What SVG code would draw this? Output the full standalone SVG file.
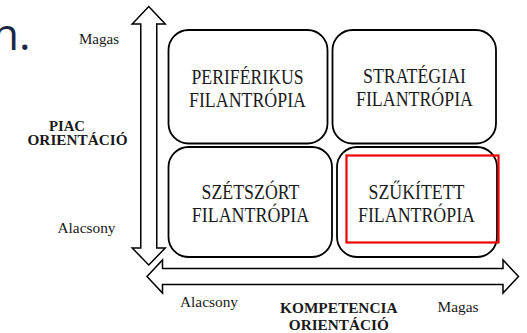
<svg xmlns="http://www.w3.org/2000/svg" width="527" height="333" viewBox="0 0 527 333">
  <style>
    .box { fill: #ffffff; stroke: #000000; stroke-width: 1.8; }
    .arrow { fill: #ffffff; stroke: #000000; stroke-width: 1.5; stroke-linejoin: miter; }
    .cell { font-family: "Liberation Serif", "Times New Roman", serif; font-size: 21px; fill: #1a1a1a; text-anchor: middle; }
    .lbl { font-family: "Liberation Serif", "Times New Roman", serif; font-size: 15px; fill: #1a1a1a; }
    .bold { font-weight: bold; }
    .mid { text-anchor: middle; }
    .hilite { fill: none; stroke: #ee0000; stroke-width: 2.2; }
  </style>

  <!-- slide title fragment -->
  <text x="-8" y="50" font-family="'Open Sans', sans-serif" font-size="44" fill="#1b2745">n.</text>

  <!-- axes -->
  <g id="connectors">
    <polygon class="arrow" points="148.75,6.5 165.25,24 156.75,24 156.75,248 165.25,248 148.75,265 132.25,248 140.75,248 140.75,24 132.25,24"/>
    <polygon class="arrow" points="147,276.5 162.5,260 162.5,268.5 503,268.5 503,260 518.5,276.5 503,293 503,284.5 162.5,284.5 162.5,293"/>
  </g>

  <g id="periferikus">
    <rect class="box" x="168.5" y="30" width="159" height="113.5" rx="20"/>
    <text class="cell" x="247.5" y="84" textLength="112" lengthAdjust="spacingAndGlyphs">PERIFÉRIKUS</text>
    <text class="cell" x="247.5" y="106.5" textLength="117" lengthAdjust="spacingAndGlyphs">FILANTRÓPIA</text>
  </g>

  <g id="strategiai">
    <rect class="box" x="332.5" y="30" width="163.5" height="113.5" rx="20"/>
    <text class="cell" x="414.5" y="83" textLength="103" lengthAdjust="spacingAndGlyphs">STRATÉGIAI</text>
    <text class="cell" x="414.5" y="106" textLength="117" lengthAdjust="spacingAndGlyphs">FILANTRÓPIA</text>
  </g>

  <g id="szetszort">
    <rect class="box" x="168.5" y="147" width="163.5" height="110" rx="20"/>
    <text class="cell" x="250.5" y="198.5" textLength="98" lengthAdjust="spacingAndGlyphs">SZÉTSZÓRT</text>
    <text class="cell" x="250.5" y="221.5" textLength="117.5" lengthAdjust="spacingAndGlyphs">FILANTRÓPIA</text>
  </g>

  <g id="szukitett">
    <rect class="box" x="337" y="147" width="160" height="110" rx="20"/>
    <text class="cell" x="416.5" y="198.5" textLength="96" lengthAdjust="spacingAndGlyphs">SZŰKÍTETT</text>
    <text class="cell" x="416.5" y="221.5" textLength="117" lengthAdjust="spacingAndGlyphs">FILANTRÓPIA</text>
    <rect class="hilite" x="346.5" y="155.5" width="152" height="87"/>
  </g>

  <!-- axis labels -->
  <g id="axis-labels">
    <text class="lbl" x="79" y="43.5" textLength="40" lengthAdjust="spacingAndGlyphs">Magas</text>
    <text class="lbl bold" x="49" y="130.5" textLength="36" lengthAdjust="spacingAndGlyphs">PIAC</text>
    <text class="lbl bold" x="27.5" y="145" textLength="100" lengthAdjust="spacingAndGlyphs">ORIENTÁCIÓ</text>
    <text class="lbl" x="57.5" y="232.5" textLength="58" lengthAdjust="spacingAndGlyphs">Alacsony</text>
    <text class="lbl" x="180" y="306.5" textLength="58" lengthAdjust="spacingAndGlyphs">Alacsony</text>
    <text class="lbl bold mid" x="338.8" y="313.3" textLength="117.5" lengthAdjust="spacingAndGlyphs">KOMPETENCIA</text>
    <text class="lbl bold mid" x="338.8" y="330" textLength="100" lengthAdjust="spacingAndGlyphs">ORIENTÁCIÓ</text>
    <text class="lbl" x="437.5" y="311.5" textLength="41" lengthAdjust="spacingAndGlyphs">Magas</text>
  </g>
</svg>
